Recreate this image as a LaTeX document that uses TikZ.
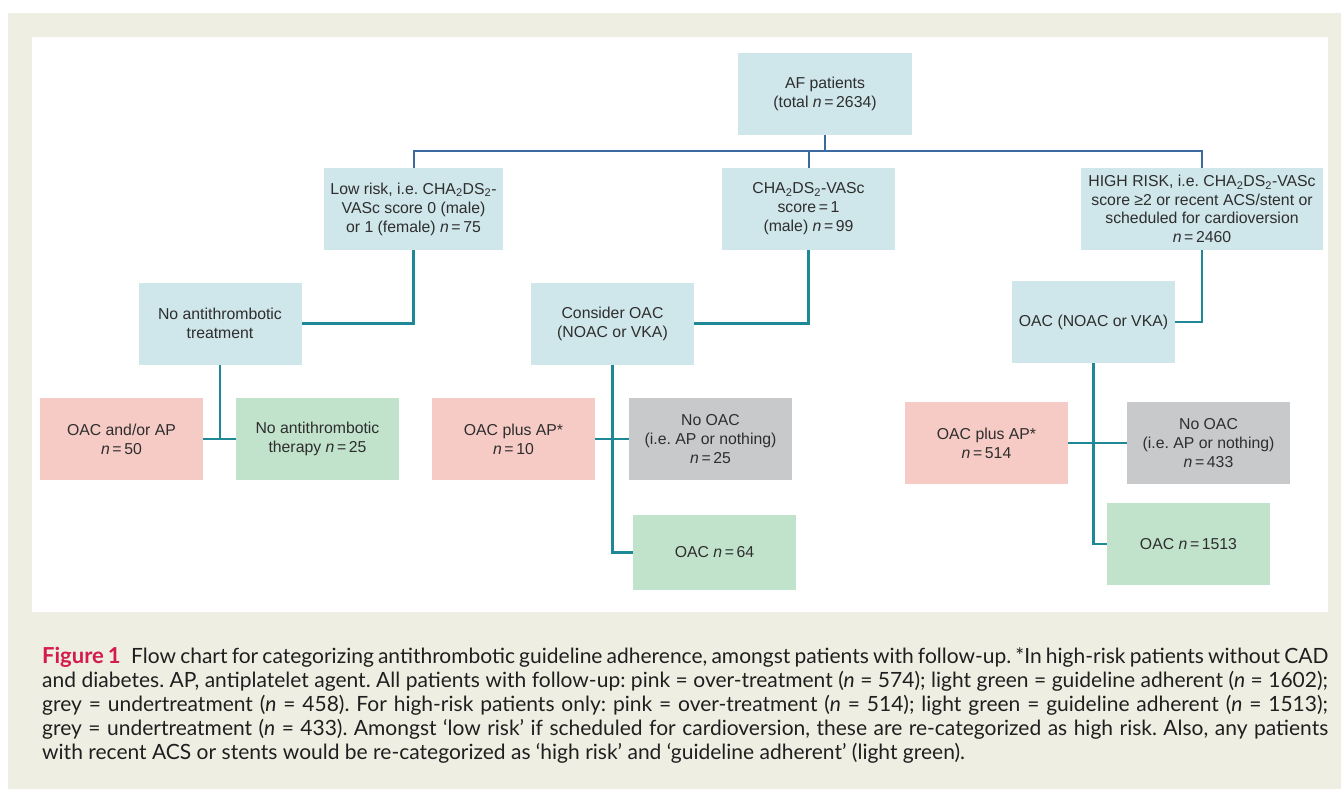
\documentclass[tikz,border=0pt]{standalone}
\usepackage{fontspec}
\setmainfont{Liberation Sans}
\newfontfamily\capfont{Lato}

\definecolor{boxblue}{HTML}{CFE6EA}
\definecolor{boxpink}{HTML}{F6CAC5}
\definecolor{boxgreen}{HTML}{C1E2CB}
\definecolor{boxgrey}{HTML}{C8C9CB}
\definecolor{linkblue}{HTML}{3C6A9E}
\definecolor{linkteal}{HTML}{1F8896}
\definecolor{panel}{HTML}{EEEEE2}
\definecolor{figred}{HTML}{D41B4B}

\newcommand{\nn}{\textit{n}\,=\,}

\tikzset{
  box/.style={minimum width=163pt, minimum height=82pt, inner sep=2pt, align=center,
    text=black!82, font=\fontsize{15.8}{19}\selectfont},
  bluebox/.style={box, fill=boxblue},
  pinkbox/.style={box, fill=boxpink},
  greenbox/.style={box, fill=boxgreen},
  greybox/.style={box, fill=boxgrey},
  toplink/.style={draw=linkblue, line width=2pt},
  sublink/.style={draw=linkteal, line width=2.4pt}
}

\begin{document}
\frenchspacing
\begin{tikzpicture}[x=1pt, y=-1pt]
		\useasboundingbox (0,0) rectangle (1341,789);
		\fill[panel] (8,13) rectangle (1341,789);
		\fill[white] (32,37) rectangle (1328,612);

		% level 0 and 1
		\node[bluebox, minimum width=174pt] (af) at (825,94) {AF patients\\(total \nn2634)};
		\node[bluebox, minimum width=179pt] (lowrisk) at (413.5,209) {Low risk, i.e. CHA\textsubscript{2}DS\textsubscript{2}-\\VASc score 0 (male)\\or 1 (female) \nn75};
		\node[bluebox, minimum width=173pt] (score1) at (808.5,209) {CHA\textsubscript{2}DS\textsubscript{2}-VASc\\score\,=\,1\\(male) \nn99};
		\node[bluebox, minimum width=242pt, font=\fontsize{15.8}{18.5}\selectfont] (highrisk) at (1202,209) {HIGH RISK, i.e. CHA\textsubscript{2}DS\textsubscript{2}-VASc\\score ≥2 or recent ACS/stent or\\scheduled for cardioversion\\\nn2460};

		% level 2
		\node[bluebox] (notreat) at (220,323.5) {No antithrombotic\\treatment};
		\node[bluebox] (consider) at (612.5,323.5) {Consider OAC\\(NOAC or VKA)};
		\node[bluebox] (oacnv) at (1093.5,322) {OAC (NOAC or VKA)};

		% level 3
		\node[pinkbox] (lowover) at (121.5,439) {OAC and/or AP\\\nn50};
		\node[greenbox] (lowok) at (317.5,439) {No antithrombotic\\therapy \nn25};
		\node[pinkbox] (midover) at (513.5,439) {OAC plus AP*\\\nn10};
		\node[greybox] (midunder) at (710.5,439) {No OAC\\(i.e. AP or nothing)\\\nn25};
		\node[greenbox, minimum height=75pt] (midok) at (714.5,552.5) {OAC \nn64};
		\node[pinkbox] (highover) at (986.5,443) {OAC plus AP*\\\nn514};
		\node[greybox] (highunder) at (1208.5,443) {No OAC\\(i.e. AP or nothing)\\\nn433};
		\node[greenbox] (highok) at (1188.5,544) {OAC \nn1513};

		\coordinate (bar) at (825,151);
		\draw[toplink] (af) -- (bar);
		\draw[toplink] (bar) -| (lowrisk);
		\draw[toplink] (bar) -| (score1);
		\draw[toplink] (bar) -| (highrisk);

		\draw[sublink] (lowrisk.south) |- (notreat.east);
		\draw[sublink] (score1.south) |- (consider.east);
		\draw[sublink] (highrisk.south) |- (oacnv.east);

		\draw[sublink] (notreat.south) -- (notreat.south |- lowover.east);
		\draw[sublink] (lowover.east) -- (lowok.west);
		\draw[sublink] (consider.south) |- (midok.west);
		\draw[sublink] (midover.east) -- (midunder.west);
		\draw[sublink] (oacnv.south) |- (highok.west);
		\draw[sublink] (highover.east) -- (highunder.west);

		\node[anchor=north west, inner sep=0, text width=1286pt, align=justify,
		  font=\capfont\fontsize{21}{24}\selectfont, text=black!88] (caption) at (42,647)
		  {{\fontsize{22}{24}\selectfont\bfseries\color{figred}Figure 1}\enspace Flow chart for categorizing antithrombotic guideline adherence, amongst patients with follow-up. *In high-risk patients without CAD\linebreak
		  and diabetes. AP, antiplatelet agent. All patients with follow-up: pink = over-treatment (\textit{n} = 574); light green = guideline adherent (\textit{n} = 1602);\linebreak
		  grey = undertreatment (\textit{n} = 458). For high-risk patients only: pink = over-treatment (\textit{n} = 514); light green = guideline adherent (\textit{n} = 1513);\linebreak
		  grey = undertreatment (\textit{n} = 433). Amongst ‘low risk’ if scheduled for cardioversion, these are re-categorized as high risk. Also, any patients\linebreak
		  with recent ACS or stents would be re-categorized as ‘high risk’ and ‘guideline adherent’ (light green).};
	\end{tikzpicture}
\end{document}
